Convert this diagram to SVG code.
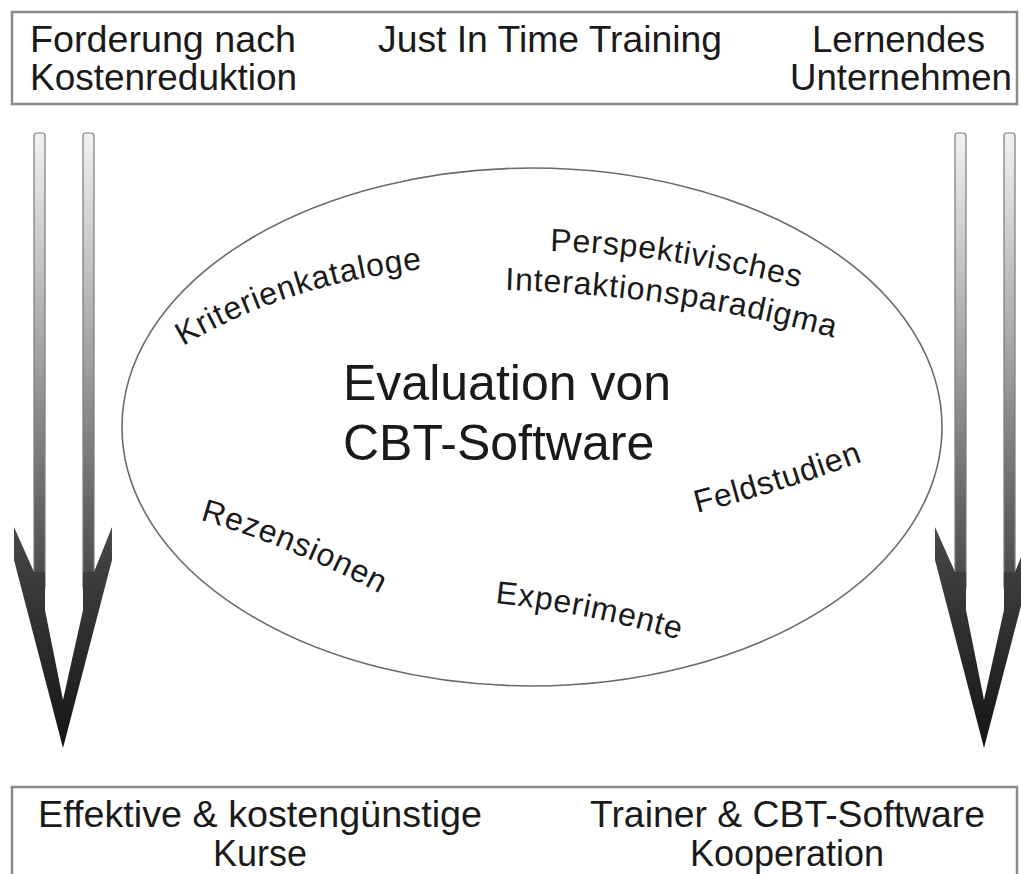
<svg xmlns="http://www.w3.org/2000/svg" width="1021" height="874" viewBox="0 0 1021 874">
  <style>
    .box { fill: #ffffff; stroke: #8a8a8a; stroke-width: 2.5; }
    .t { font-family: "Liberation Sans", Arial, sans-serif; fill: #1a1a1a; }
    .big { font-size: 36px; }
    .lbl { font-size: 32px; letter-spacing: 0.8px; }
    .title { font-size: 50px; }
    .shaft { fill: url(#shaftGrad); stroke: #7a7a7a; stroke-width: 1.2; }
    .head { fill: url(#headGrad); }
  </style>
  <defs>
    <linearGradient id="shaftGrad" gradientUnits="userSpaceOnUse" x1="0" y1="133" x2="0" y2="590">
      <stop offset="0" stop-color="#f2f2f2"/>
      <stop offset="0.5" stop-color="#a0a0a0"/>
      <stop offset="1" stop-color="#444444"/>
    </linearGradient>
    <linearGradient id="headGrad" gradientUnits="userSpaceOnUse" x1="0" y1="527" x2="0" y2="748">
      <stop offset="0" stop-color="#484848"/>
      <stop offset="1" stop-color="#141414"/>
    </linearGradient>
    <g id="arrow">
      <rect class="shaft" x="34" y="133" width="11" height="457" rx="3"/>
      <rect class="shaft" x="83" y="133" width="11" height="457" rx="3"/>
      <path class="head" d="M14,527 L34,572 L45,572 L45,610 L63,700 L83,610 L83,572 L94,572 L112,527 L112,560 L63,748 L14,560 Z"/>
    </g>
    <path id="pKrit" d="M183,346 Q290,282 432,268"/>
    <path id="pPersp" d="M550,251 Q670,254 800,288"/>
    <path id="pInter" d="M505,290 Q680,295 835,338"/>
    <path id="pRez" d="M200,520 Q292,546 388,598"/>
    <path id="pExp" d="M495,603 Q585,612 680,640"/>
    <path id="pFeld" d="M697,513 Q780,492 864,461"/>
  </defs>

  <rect width="1021" height="874" fill="#ffffff"/>

  <g id="connectors">
    <use href="#arrow"/>
    <use href="#arrow" transform="translate(921,0)"/>
  </g>

  <g id="top-box">
    <rect class="box" x="12" y="12" width="1005" height="92"/>
    <text class="t big" x="30" y="52" textLength="266" lengthAdjust="spacingAndGlyphs">Forderung nach</text>
    <text class="t big" x="30" y="90" textLength="267" lengthAdjust="spacingAndGlyphs">Kostenreduktion</text>
    <text class="t big" x="378" y="52" textLength="344" lengthAdjust="spacingAndGlyphs">Just In Time Training</text>
    <text class="t big" x="812" y="52" textLength="173" lengthAdjust="spacingAndGlyphs">Lernendes</text>
    <text class="t big" x="790" y="90" textLength="222" lengthAdjust="spacingAndGlyphs">Unternehmen</text>
  </g>

  <g id="center">
    <ellipse cx="532" cy="427" rx="410" ry="259" fill="none" stroke="#6a6a6a" stroke-width="1.6"/>
    <text class="t title" x="343" y="400">Evaluation von</text>
    <text class="t title" x="343" y="460">CBT-Software</text>
  </g>

  <g id="kriterienkataloge"><text class="t lbl"><textPath href="#pKrit">Kriterienkataloge</textPath></text></g>
  <g id="perspektivisches"><text class="t lbl"><textPath href="#pPersp">Perspektivisches</textPath></text>
    <text class="t lbl"><textPath href="#pInter">Interaktionsparadigma</textPath></text></g>
  <g id="rezensionen"><text class="t lbl"><textPath href="#pRez">Rezensionen</textPath></text></g>
  <g id="experimente"><text class="t lbl"><textPath href="#pExp">Experimente</textPath></text></g>
  <g id="feldstudien"><text class="t lbl"><textPath href="#pFeld">Feldstudien</textPath></text></g>

  <g id="bottom-box">
    <rect class="box" x="12" y="787" width="1005" height="100"/>
    <text class="t big" x="38" y="827" textLength="444" lengthAdjust="spacingAndGlyphs">Effektive &amp; kostengünstige</text>
    <text class="t big" x="260" y="866" text-anchor="middle">Kurse</text>
    <text class="t big" x="590" y="827" textLength="395" lengthAdjust="spacingAndGlyphs">Trainer &amp; CBT-Software</text>
    <text class="t big" x="787" y="866" text-anchor="middle">Kooperation</text>
  </g>
</svg>
